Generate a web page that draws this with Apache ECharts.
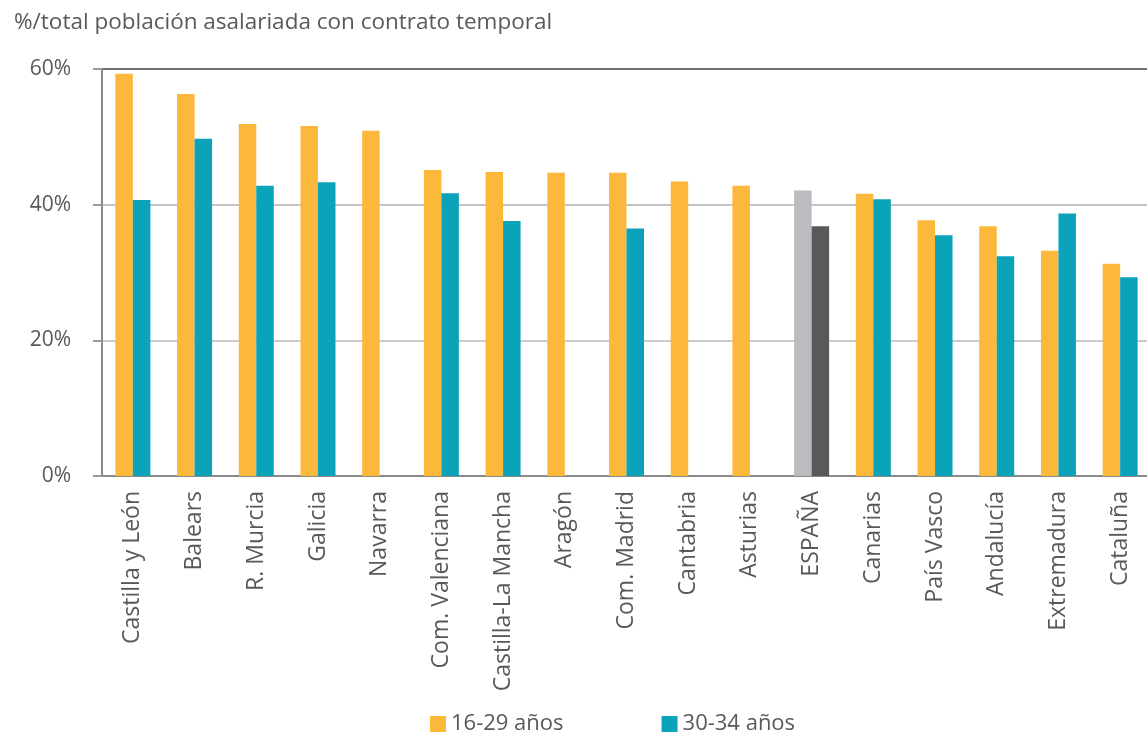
<!DOCTYPE html>
<html>
<head>
<meta charset="utf-8">
<script src="https://cdn.jsdelivr.net/npm/echarts@6/dist/echarts.min.js"></script>
<style>
  html, body { margin: 0; padding: 0; background: #fff; }
  #chart { width: 1147px; height: 738px; }
</style>
</head>
<body>
<div id="chart"></div>
<script>
var chart = echarts.init(document.getElementById("chart"));

// datos
var regiones = ['Castilla y León', 'Balears', 'R. Murcia', 'Galicia', 'Navarra',
    'Com. Valenciana', 'Castilla-La Mancha', 'Aragón', 'Com. Madrid', 'Cantabria',
    'Asturias', 'ESPAÑA', 'Canarias', 'País Vasco', 'Andalucía', 'Extremadura', 'Cataluña'];
var jovenes16_29 = [59.3, 56.3, 51.9, 51.6, 50.9, 45.1, 44.8, 44.7, 44.7, 43.4,
    42.8, 42.1, 41.6, 37.7, 36.8, 33.2, 31.3];
var jovenes30_34 = [40.7, 49.7, 42.8, 43.3, null, 41.7, 37.6, null, 36.5, null,
    null, 36.8, 40.8, 35.5, 32.4, 38.7, 29.3];
var yTicks = [0, 20, 40, 60];

var naranja = '#FBB83B';
var azul = '#0AA3BA';
var gris = '#58595B';
var fuente = '"Open Sans"';

// España va en gris
function marcarEspana(vals, color) {
    return vals.map(function (v, i) {
        if (regiones[i] === 'ESPAÑA') {
            return { value: v, itemStyle: { color: color } };
        }
        return v;
    });
}

var option = {
    backgroundColor: '#fff',
    animation: false,
    textStyle: { fontFamily: fuente, color: gris },
    title: {
        text: '%/total población asalariada con contrato temporal',
        left: 9,
        top: 6,
        textStyle: { fontFamily: fuente, fontSize: 22.5, fontWeight: 'normal', color: gris }
    },
    legend: {
        left: 425,
        top: 708,
        icon: 'rect',
        itemWidth: 16,
        itemHeight: 16,
        itemGap: 98,
        textStyle: { fontFamily: fuente, fontSize: 22, color: gris },
        data: ['16-29 años', '30-34 años']
    },
    grid: {
        left: 102,
        width: 1049,
        top: 69,
        bottom: 262,
        outerBoundsMode: 'none',
        containLabel: false
    },
    xAxis: {
        type: 'category',
        data: regiones,
        axisLine: { lineStyle: { color: '#8a8a8a', width: 2 } },
        axisTick: { show: false },
        axisLabel: {
            interval: 0,
            rotate: 90,
            margin: 15,
            fontFamily: fuente,
            fontSize: 23,
            color: gris
        }
    },
    yAxis: {
        type: 'value',
        min: yTicks[0],
        max: yTicks[yTicks.length - 1],
        interval: 20,
        axisLine: { show: true, lineStyle: { color: '#8a8a8a', width: 2 } },
        axisTick: { show: true, inside: false, length: 9, lineStyle: { color: '#9a9a9a', width: 2 } },
        axisLabel: {
            formatter: '{value}%',
            margin: 31,
            fontFamily: fuente,
            fontSize: 21,
            color: gris
        },
        splitLine: {
            lineStyle: { color: ['#8a8a8a', '#cccccc', '#c4c4c8', '#707070'], width: 2 }
        }
    },
    series: [
        {
            name: '16-29 años',
            type: 'bar',
            barWidth: 17.5,
            barGap: '0%',
            itemStyle: { color: naranja },
            data: marcarEspana(jovenes16_29, '#BBBCBF')
        },
        {
            name: '30-34 años',
            type: 'bar',
            barWidth: 17.5,
            barGap: '0%',
            itemStyle: { color: azul },
            data: marcarEspana(jovenes30_34, '#58595B')
        }
    ]
};

chart.setOption(option);
</script>
</body>
</html>
